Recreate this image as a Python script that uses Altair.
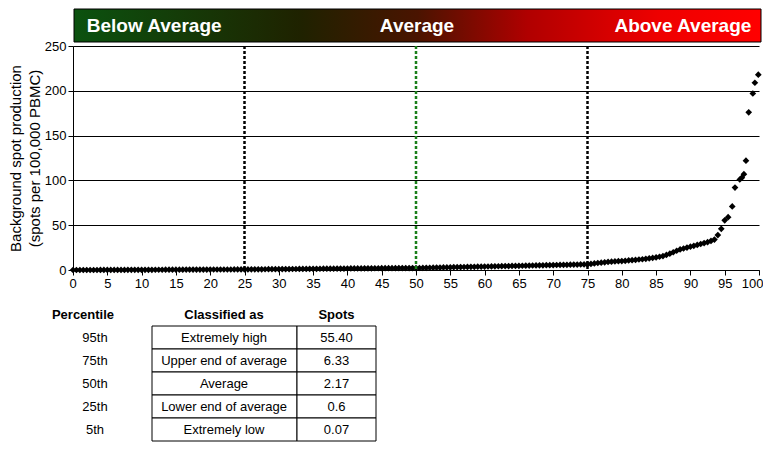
import altair as alt
import pandas as pd

# ---------------- data ----------------
# sorted background spot counts, read at percentile ranks 0, 0.5, 1.0 ... 95
body_spots = [
    0,
    0, 0, 0, 0, 0, 0, 0.02, 0.04, 0.06, 0.07,
    0.08, 0.1, 0.11, 0.12, 0.13, 0.15, 0.17, 0.18, 0.2, 0.2,
    0.22, 0.23, 0.25, 0.27, 0.28, 0.3, 0.32, 0.33, 0.35, 0.37,
    0.38, 0.4, 0.42, 0.43, 0.45, 0.47, 0.48, 0.5, 0.52, 0.53,
    0.55, 0.55, 0.57, 0.57, 0.58, 0.58, 0.59, 0.6, 0.6, 0.6,
    0.65, 0.7, 0.73, 0.77, 0.8, 0.83, 0.87, 0.9, 0.93, 0.97,
    1.0, 1.03, 1.07, 1.1, 1.13, 1.17, 1.2, 1.25, 1.3, 1.33,
    1.37, 1.4, 1.43, 1.47, 1.5, 1.53, 1.57, 1.6, 1.63, 1.67,
    1.7, 1.73, 1.77, 1.8, 1.83, 1.87, 1.9, 1.93, 1.97, 2.0,
    2.03, 2.05, 2.07, 2.08, 2.1, 2.12, 2.13, 2.15, 2.17, 2.17,
    2.25, 2.33, 2.4, 2.5, 2.6, 2.67, 2.75, 2.83, 2.9, 3.0,
    3.1, 3.17, 3.25, 3.33, 3.4, 3.5, 3.6, 3.67, 3.75, 3.83,
    3.9, 4.0, 4.1, 4.17, 4.25, 4.33, 4.4, 4.5, 4.6, 4.67,
    4.75, 4.83, 4.9, 5.0, 5.1, 5.17, 5.25, 5.33, 5.4, 5.5,
    5.6, 5.67, 5.75, 5.83, 5.9, 6.0, 6.1, 6.17, 6.25, 6.33,
    6.8, 7.3, 7.8, 8.2, 8.6, 9.0, 9.3, 9.6, 9.8, 10.0,
    10.3, 10.7, 11.0, 11.3, 11.7, 12.0, 12.5, 13.0, 13.5, 14.0,
    14.8, 15.6, 16.8, 18.2, 19.8, 21.5, 23, 24, 25, 26,
    27, 28, 29, 30, 31, 32.5, 34, 39, 46, 55.4,
]
body_pct = [i * 0.5 for i in range(len(body_spots))]

# upper tail, read point by point
tail_pct = [95.5, 96.1, 96.5, 97.2, 97.5, 97.8, 98.1, 98.5, 99.1, 99.4, 99.9]
tail_spots = [59, 71, 92, 101, 103, 107, 122, 176, 197, 209, 218]

cut_pct = [25, 50, 75]
cut_kind = ["quartile", "median", "quartile"]

x_ticks = [0, 5, 10, 15, 20, 25, 30, 35, 40, 45, 50,
           55, 60, 65, 70, 75, 80, 85, 90, 95, 100]
y_ticks = [0, 50, 100, 150, 200, 250]

header_labels = ["Below Average", "Average", "Above Average"]
header_pos = [2.0, 50.0, 98.6]
header_align = ["left", "center", "right"]

tbl_headers = ["Percentile", "Classified as", "Spots"]
tbl_percentile = ["95th", "75th", "50th", "25th", "5th"]
tbl_class = ["Extremely high", "Upper end of average", "Average",
             "Lower end of average", "Extremely low"]
tbl_spots = ["55.40", "6.33", "2.17", "0.6", "0.07"]

FONT = "Liberation Sans"
PW, PH = 686, 224

# ---------------- header bar ----------------
grad = alt.LinearGradient(
    gradient="linear", x1=0, x2=1, y1=0, y2=0,
    stops=[
        alt.GradientStop(offset=0.0, color="#0b520f"),
        alt.GradientStop(offset=0.33, color="#1f2200"),
        alt.GradientStop(offset=0.5, color="#4a1400"),
        alt.GradientStop(offset=0.66, color="#b00000"),
        alt.GradientStop(offset=0.85, color="#ee0000"),
        alt.GradientStop(offset=1.0, color="#ff0000"),
    ],
)
hdr_bg = alt.Chart(pd.DataFrame({"a": [0]})).mark_rect(
    fill=grad, stroke="black", strokeWidth=1
).encode(x=alt.value(1), x2=alt.value(PW + 2), y=alt.value(0), y2=alt.value(33))

hdr_df = pd.DataFrame({"label": header_labels, "pos": header_pos, "align": header_align})
hdr_layers = [hdr_bg]
for a in header_align:
    hdr_layers.append(
        alt.Chart(hdr_df).transform_filter(alt.datum.align == a).mark_text(
            align=a, baseline="middle", color="white", font=FONT,
            fontSize=19, fontWeight="bold"
        ).encode(
            x=alt.X("pos:Q", scale=alt.Scale(domain=[0, 100]), axis=None),
            y=alt.value(17),
            text="label:N",
        )
    )
header = alt.layer(*hdr_layers).properties(width=PW + 2, height=33)

# ---------------- main scatter ----------------
pts = pd.DataFrame({"pct": body_pct + tail_pct, "spots": body_spots + tail_spots})
cuts = pd.DataFrame({"pct": cut_pct, "kind": cut_kind})

x_axis = alt.Axis(
    values=x_ticks, title=None, grid=False,
    labelFontSize=13, labelFont=FONT, labelColor="black",
    tickColor="black", domainColor="black", tickSize=5,
    labelPadding=2, labelFlush=True, labelFlushOffset=4, labelOverlap=False,
)
x_scale = alt.Scale(domain=[0, 100], nice=False)

y_enc = alt.Y(
    "spots:Q",
    scale=alt.Scale(domain=[0, 250], nice=False),
    axis=alt.Axis(
        values=y_ticks,
        title=["Background spot production", "(spots per 100,000 PBMC)"],
        titleFont=FONT, titleFontSize=15, titleFontWeight="normal",
        titleColor="black", titleLineHeight=19, titlePadding=2,
        labelFontSize=13, labelFont=FONT, labelColor="black",
        tickColor="black", domainColor="black", tickSize=5, labelPadding=2,
        grid=True, gridColor="black", gridOpacity=1, gridWidth=1,
    ),
)
points = alt.Chart(pts).mark_point(
    shape="diamond", filled=True, color="black", size=45, opacity=1
).encode(x=alt.X("pct:Q", scale=x_scale, axis=x_axis), y=y_enc)

rules = alt.Chart(cuts).mark_rule(strokeDash=[3, 2], strokeWidth=2.5).encode(
    x=alt.X("pct:Q", scale=x_scale, axis=x_axis),
    color=alt.Color("kind:N", scale=alt.Scale(domain=["quartile", "median"],
                                              range=["black", "#1a7f1a"]),
                    legend=None),
)
main = alt.layer(points, rules).properties(width=PW, height=PH)

# ---------------- table ----------------
row_keys = ["h", "r1", "r2", "r3", "r4", "r5"]
tbl = pd.DataFrame({"row": row_keys[1:], "pct": tbl_percentile,
                    "cls": tbl_class, "spots": tbl_spots})
tbl_h = pd.DataFrame({"row": ["h"] * 3, "label": tbl_headers, "xp": [10, 151, 263.5]})
yrow = alt.Y("row:N", scale=alt.Scale(domain=row_keys, paddingInner=0, paddingOuter=0),
             axis=None)

cell_a = alt.Chart(tbl).mark_rect(fill="white", stroke="black", strokeWidth=1).encode(
    x=alt.value(79), x2=alt.value(224), y=yrow)
cell_b = alt.Chart(tbl).mark_rect(fill="white", stroke="black", strokeWidth=1).encode(
    x=alt.value(224), x2=alt.value(303), y=yrow)
txt = dict(font=FONT, fontSize=13, color="black", baseline="middle")
t_pct = alt.Chart(tbl).mark_text(**txt).encode(x=alt.value(22), y=yrow, text="pct:N")
t_cls = alt.Chart(tbl).mark_text(**txt).encode(x=alt.value(151), y=yrow, text="cls:N")
t_spt = alt.Chart(tbl).mark_text(**txt).encode(x=alt.value(263.5), y=yrow, text="spots:N")
t_hdr = alt.Chart(tbl_h).mark_text(fontWeight="bold", **txt).encode(
    x=alt.X("xp:Q", scale=None), y=yrow, text="label:N")
table = alt.layer(cell_a, cell_b, t_pct, t_cls, t_spt, t_hdr).properties(width=310, height=138)

inner = alt.vconcat(main, table, spacing=33, bounds="flush")
chart = alt.vconcat(header, inner, spacing=4, bounds="flush").properties(
    padding={"left": 0, "top": 0, "right": 0, "bottom": 0}
).configure_view(stroke=None)

chart.save("out.html", embed_options={"renderer": "svg", "actions": False})
